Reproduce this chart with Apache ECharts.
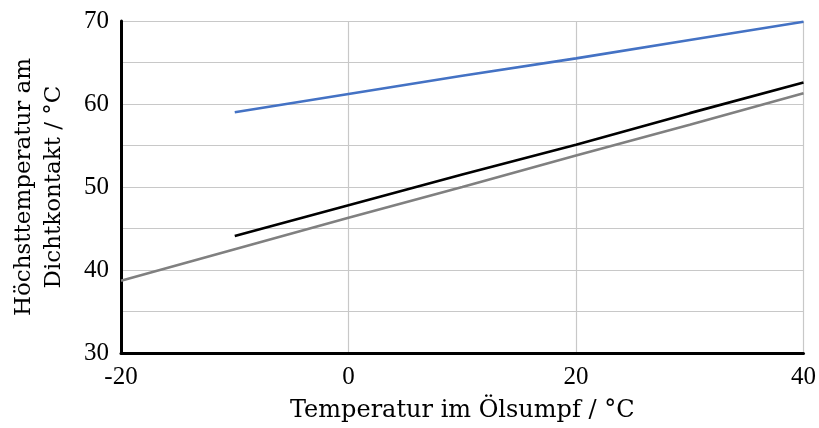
<!DOCTYPE html>
<html lang="de">
<head>
    <meta charset="UTF-8">
    <title>Höchsttemperatur</title>
    <script src="https://cdn.jsdelivr.net/npm/echarts@6/dist/echarts.min.js"></script>
</head>
<style>
html,body{margin:0;padding:0;background-color:#ffffff;overflow:hidden}
#chartBox{width:819px;height:428px}
</style>
<body>
    <div id="chartBox"></div>
</body>
<script>
// Daten
const blueX = [-10, 0, 10, 20, 30, 40];
const blueY = [59.0, 61.2, 63.4, 65.5, 67.7, 69.9];
const blackX = [-10, 0, 10, 20, 30, 40];
const blackY = [44.1, 47.8, 51.5, 55.1, 58.9, 62.6];
const grayX = [-20, -10, 0, 10, 20, 30, 40];
const grayY = [38.7, 42.5, 46.3, 50.0, 53.8, 57.5, 61.3];

const tickFont = '"Liberation Serif", serif';
const nameFont = '"DejaVu Serif", serif';

function pairs(xs, ys) {
    return xs.map((x, i) => [x, ys[i]]);
}

function lineSeries(name, xs, ys, color) {
    return {
        type: 'line',
        name: name,
        data: pairs(xs, ys),
        symbol: 'none',
        lineStyle: {color: color, width: 2.6},
        itemStyle: {color: color},
        animation: false
    };
}

let chartObj = echarts.init(document.getElementById('chartBox'));
chartObj.setOption({
    backgroundColor: '#ffffff',
    grid: {left: 121, right: 11, top: 21, bottom: 75},
    xAxis: {
        type: 'value',
        min: -20,
        max: 40,
        interval: 20,
        name: 'Temperatur im Ölsumpf / °C',
        nameLocation: 'middle',
        nameGap: 46,
        nameTextStyle: {fontSize: 24, color: '#000', fontFamily: nameFont},
        axisLine: {show: true, onZero: false, lineStyle: {color: '#000', width: 3}},
        axisTick: {show: false},
        axisLabel: {fontSize: 25, color: '#000', margin: 12, fontFamily: tickFont},
        splitLine: {show: true, lineStyle: {color: '#c8c8c8', width: 1.2}}
    },
    yAxis: {
        type: 'value',
        min: 30,
        max: 70,
        interval: 5,
        name: 'Höchsttemperatur am\nDichtkontakt / °C',
        nameLocation: 'middle',
        nameGap: 52,
        nameRotate: 90,
        nameTextStyle: {fontSize: 23, color: '#000', lineHeight: 30, fontFamily: nameFont},
        axisLine: {show: true, onZero: false, lineStyle: {color: '#000', width: 3}},
        axisTick: {show: false},
        axisLabel: {
            fontSize: 25, color: '#000', margin: 12, fontFamily: tickFont,
            formatter: v => (v % 10 === 0 ? String(v) : '')
        },
        splitLine: {show: true, lineStyle: {color: '#c8c8c8', width: 1.2}}
    },
    series: [
        lineSeries('blau', blueX, blueY, '#4472c4'),
        lineSeries('schwarz', blackX, blackY, '#000000'),
        lineSeries('grau', grayX, grayY, '#808080')
    ]
});
</script>
</html>
